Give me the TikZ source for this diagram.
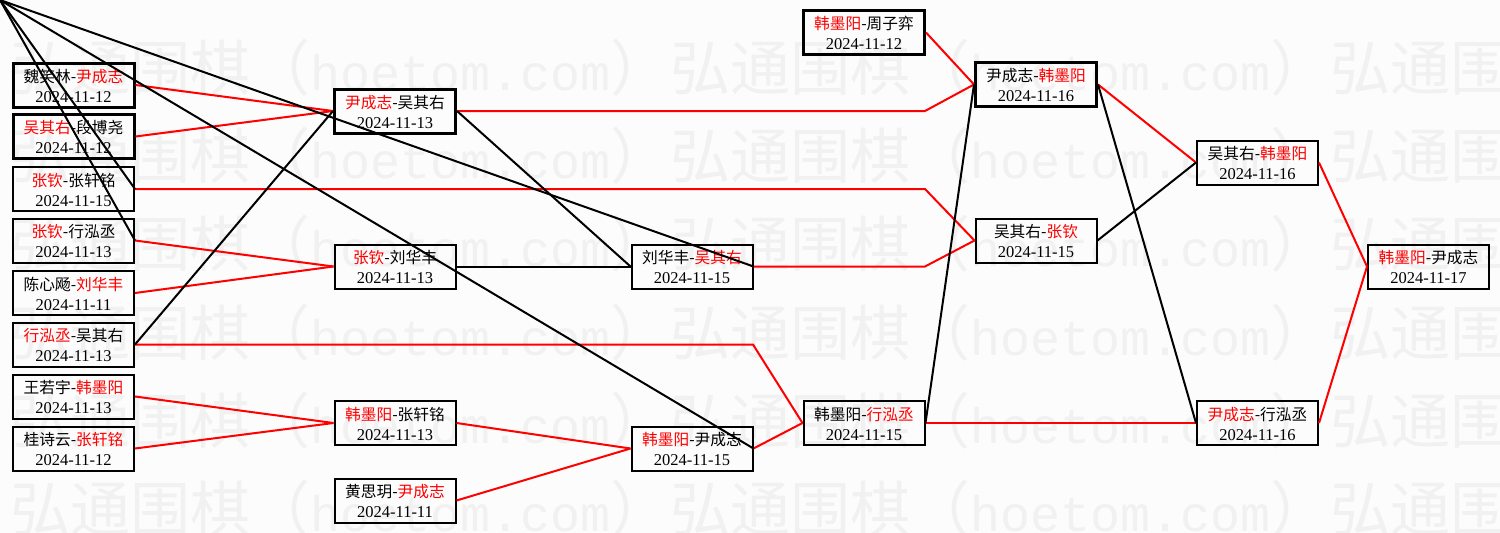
\documentclass[tikz,border=0pt]{standalone}
\usepackage{fontspec}
\setmainfont{Liberation Serif}
\newfontfamily\cjk{Noto Sans CJK SC}
\newfontfamily\wmlat{Liberation Mono}
\definecolor{wmark}{RGB}{241,241,241}
\definecolor{bgc}{RGB}{252,252,252}
\newcommand{\wn}[1]{\textcolor{red}{#1}}
\newcommand{\game}[6]{%
  \node[#6] (#1) at (#2,#3) {};
  \node[nametext] (#1n) at (#2,#3-3) {#4};
  \node[datetext] (#1d) at (#2,#3+17) {#5};
}
\newcommand{\wmstr}{弘通围棋（{\wmlat\fontsize{50}{50}\selectfont hoetom.com}）}
\tikzset{
  box/.style={draw=black, line width=2pt, minimum width=121pt, minimum height=44pt, inner sep=0pt},
  boxthick/.style={box, line width=3pt},
  nametext/.style={anchor=base, inner sep=0pt, font=\cjk\fontsize{15.7}{16}\selectfont},
  datetext/.style={anchor=base, inner sep=0pt, font=\fontsize{16.5}{17}\selectfont},
  winline/.style={draw=red, line width=2pt},
  loseline/.style={draw=black, line width=2pt},
  wm/.style={anchor=base west, inner sep=0pt, text=wmark, font=\cjk\fontsize{60}{60}\selectfont}
}
\begin{document}
\begin{tikzpicture}[x=1pt,y=-1pt]
\useasboundingbox (0,0) rectangle (1500,533);
\fill[bgc] (0,0) rectangle (1500,533);
\begin{scope}
\clip (0,0) rectangle (1500,533);
\foreach \yy [count=\i] in {90,178,266,355,443,531}{
  \node[wm] (wm\i) at (10,\yy) {\wmstr\wmstr\wmstr};
}
\end{scope}
\coordinate (tl) at (0,0);
\coordinate (k925) at (925,0);
\coordinate (k753) at (753,0);
% column 1
\game{a1}{73.5}{85}{魏笑林-\wn{尹成志}}{2024-11-12}{boxthick}
\game{a2}{73.5}{136.5}{\wn{吴其右}-段博尧}{2024-11-12}{boxthick}
\game{a3}{73.5}{189}{\wn{张钦}-张轩铭}{2024-11-15}{box}
\game{a4}{73.5}{240.5}{\wn{张钦}-行泓丞}{2024-11-13}{box}
\game{a5}{73.5}{293}{陈心飏-\wn{刘华丰}}{2024-11-11}{box}
\game{a6}{73.5}{344.5}{\wn{行泓丞}-吴其右}{2024-11-13}{box}
\game{a7}{73.5}{396.5}{王若宇-\wn{韩墨阳}}{2024-11-13}{box}
\game{a8}{73.5}{448.5}{桂诗云-\wn{张轩铭}}{2024-11-12}{box}
% column 2
\game{b1}{395}{111}{\wn{尹成志}-吴其右}{2024-11-13}{boxthick}
\game{b2}{395}{266.5}{\wn{张钦}-刘华丰}{2024-11-13}{box}
\game{b3}{395}{423}{\wn{韩墨阳}-张轩铭}{2024-11-13}{box}
\game{b4}{395}{500.5}{黄思玥-\wn{尹成志}}{2024-11-11}{box}
% column 3
\game{c1}{692}{266.5}{刘华丰-\wn{吴其右}}{2024-11-15}{box}
\game{c2}{692}{448.5}{\wn{韩墨阳}-尹成志}{2024-11-15}{box}
% column 4
\game{d1}{864}{32.5}{\wn{韩墨阳}-周子弈}{2024-11-12}{boxthick}
\game{d2}{864}{423}{韩墨阳-\wn{行泓丞}}{2024-11-15}{box}
% column 5
\game{e1}{1036}{84.5}{尹成志-\wn{韩墨阳}}{2024-11-16}{boxthick}
\game{e2}{1036}{240.5}{吴其右-\wn{张钦}}{2024-11-15}{box}
% column 6
\game{f1}{1257.5}{162.5}{吴其右-\wn{韩墨阳}}{2024-11-16}{box}
\game{f2}{1257.5}{423}{\wn{尹成志}-行泓丞}{2024-11-16}{box}
% column 7
\game{g1}{1428.5}{266.5}{\wn{韩墨阳}-尹成志}{2024-11-17}{box}
% winner connectors
\draw[winline] (a1.east) -- (b1.west);
\draw[winline] (a2.east) -- (b1.west);
\draw[winline] (a3.east) -- (a3.east -| k925) -- (e2.west);
\draw[winline] (a4.east) -- (b2.west);
\draw[winline] (a5.east) -- (b2.west);
\draw[winline] (a6.east) -- (a6.east -| k753) -- (d2.west);
\draw[winline] (a7.east) -- (b3.west);
\draw[winline] (a8.east) -- (b3.west);
\draw[winline] (b1.east) -- (b1.east -| k925) -- (e1.west);
\draw[winline] (c1.east) -- (c1.east -| k925) -- (e2.west);
\draw[winline] (b3.east) -- (c2.west);
\draw[winline] (b4.east) -- (c2.west);
\draw[winline] (c2.east) -- (d2.west);
\draw[winline] (d1.east) -- (e1.west);
\draw[winline] (d2.east) -- (f2.west);
\draw[winline] (e1.east) -- (f1.west);
\draw[winline] (f1.east) -- (g1.west);
\draw[winline] (f2.east) -- (g1.west);
% other connectors
\draw[loseline] (tl) -- (c1.east);
\draw[loseline] (tl) -- (c2.east);
\draw[loseline] (tl) -- (a3.east);
\draw[loseline] (tl) -- (a4.east);
\draw[loseline] (a6.east) -- (b1.west);
\draw[loseline] (b1.east) -- (c1.west);
\draw[loseline] (b2.east) -- (c1.west);
\draw[loseline] (e2.east) -- (f1.west);
\draw[loseline] (d2.east) -- (e1.west);
\draw[loseline] (e1.east) -- (f2.west);
\end{tikzpicture}
\end{document}
